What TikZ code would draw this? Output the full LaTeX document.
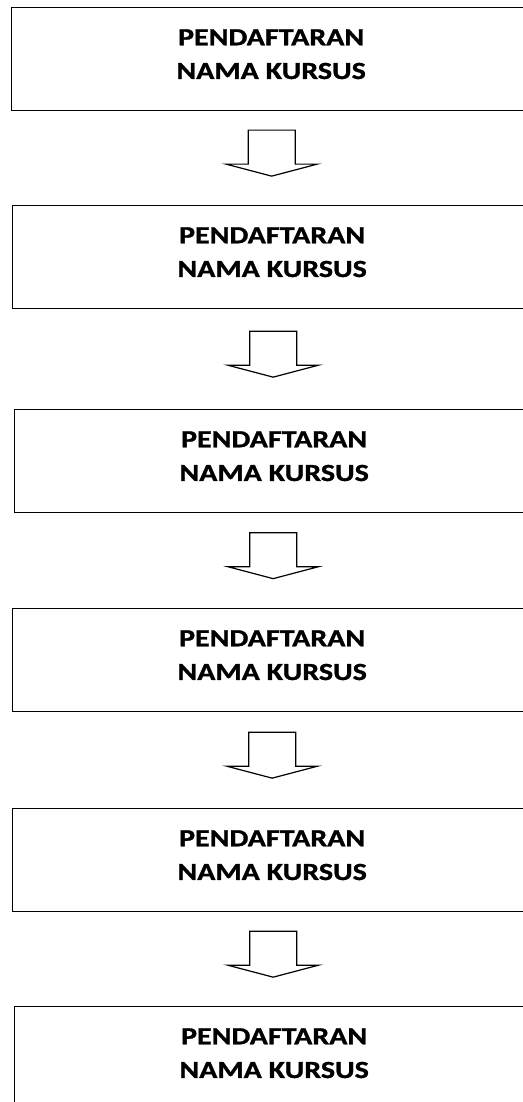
\documentclass[tikz,border=0pt]{standalone}
\usepackage{fontspec}
\newfontfamily\kotakfont{Carlito}[FakeStretch=1.22,BoldFeatures={FakeBold=1.2}]
\usetikzlibrary{calc}
\begin{document}
\begin{tikzpicture}[x=1pt,y=-1pt]
	      \tikzstyle{every node}=[font=\kotakfont\bfseries\fontsize{24.6}{33.7}\selectfont]
	      \tikzstyle{kotak}=[draw,line width=1.3pt,anchor=north west,minimum width=519pt,minimum height=103pt,align=center,text depth=10pt,inner sep=0pt]
	      \tikzstyle{panah}=[draw,line width=1.2pt,line join=miter,fill=white]
	      \useasboundingbox (0,0) rectangle (522,1102);
	      \foreach \i/\x/\y in {1/11/7,2/12/205,3/14/409,4/12/608,5/12/808,6/14/1006}
	        \node[kotak] (k\i) at (\x,\y) {PENDAFTARAN\\NAMA KURSUS};
	      \foreach \i/\j in {1/2,2/3,3/4,4/5,5/6}{
	        \coordinate (m\i) at ($(k\i.south)!0.5!(k\j.north)$);
	        \draw[panah] ($(m\i)+(-23.5,-28)$) -- ++(0,34) -- ++(-22,0) -- ++(45.5,12)
	          -- ++(45.5,-12) -- ++(-22,0) -- ++(0,-34) -- cycle;
	      }
	    \end{tikzpicture}
\end{document}
